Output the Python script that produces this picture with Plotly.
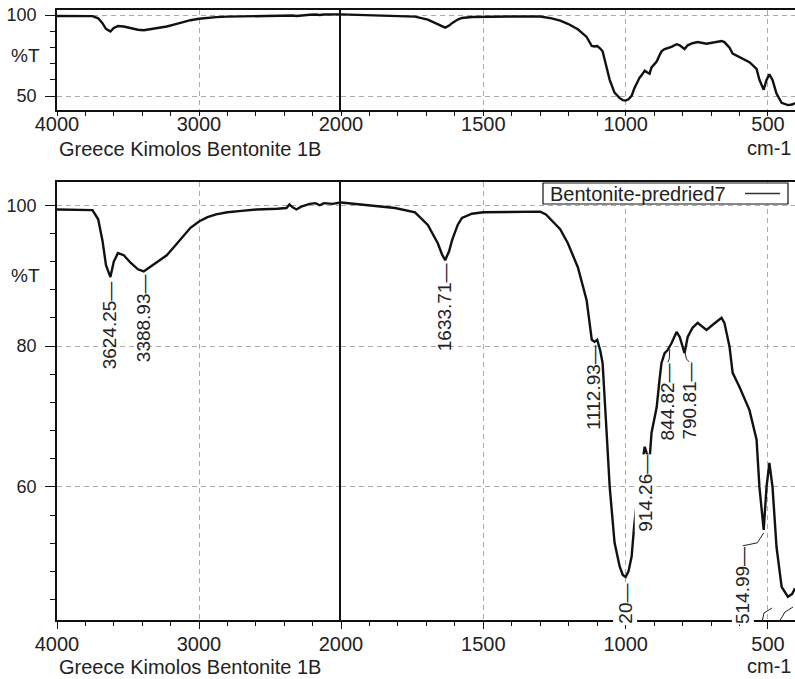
import plotly.graph_objects as go
import numpy as np

# ---------------- data ----------------
wavenumber = [
    4000, 3900, 3800, 3750, 3710, 3680, 3655, 3624, 3600, 3571, 3530, 3480, 3430, 3389,
    3340, 3280, 3227, 3170, 3115, 3060, 3000, 2940, 2880, 2800, 2700, 2595, 2450, 2384,
    2363, 2340, 2314, 2280, 2220, 2180, 2150, 2120, 2060, 2000,
    1950, 1900, 1850, 1810, 1740, 1695, 1660, 1645, 1634, 1620, 1610, 1590, 1575, 1540,
    1500, 1400, 1300, 1280, 1260, 1230, 1203, 1168, 1137, 1119, 1109, 1100, 1090, 1081,
    1070, 1056, 1039, 1021, 1010, 1000, 990, 979, 970, 951, 944, 933, 926, 916, 909, 891,
    881, 874, 863, 853, 839, 821, 810, 793, 782, 765, 747, 716, 695, 663, 653, 635, 624,
    600, 565, 540, 530, 515, 505, 495, 484, 470, 452, 430, 415, 405]
transmittance = [
    99.4, 99.4, 99.4, 99.3, 98.0, 95.0, 91.5, 89.8, 92.0, 93.2, 92.9, 91.8, 90.9, 90.6,
    91.3, 92.2, 92.9, 94.2, 95.5, 96.8, 97.7, 98.3, 98.7, 99.0, 99.2, 99.4, 99.5, 99.6,
    100.1, 99.7, 99.4, 99.8, 100.2, 100.3, 100.0, 100.3, 100.2, 100.4,
    100.2, 99.9, 99.7, 99.6, 99.0, 97.2, 94.6, 93.0, 92.2, 93.5, 95.0, 97.2, 98.2, 98.8,
    99.0, 99.1, 99.1, 98.7, 97.9, 96.6, 94.6, 91.2, 86.5, 80.9, 80.6, 80.9, 79.5, 77.6,
    70.0, 60.0, 52.1, 48.7, 47.5, 47.2, 48.0, 50.1, 54.5, 61.4, 62.8, 65.7, 64.8, 63.8,
    67.7, 71.3, 75.2, 77.6, 79.0, 79.4, 80.4, 82.0, 81.3, 79.0, 81.3, 82.6, 83.3, 82.3,
    83.0, 84.0, 83.3, 79.9, 76.2, 74.2, 70.9, 66.7, 60.0, 53.9, 60.0, 63.4, 60.0, 51.5,
    45.8, 44.4, 44.8, 45.6]
peak_positions = [3624.25, 3388.93, 1633.71, 1112.93, 914.26, 844.82, 790.81, 514.99]
peak_labels = ["3624.25", "3388.93", "1633.71", "1112.93", "914.26", "844.82", "790.81", "514.99"]
min_label_pos = 1000
min_label_text = "20"
x_ticks_left = [4000, 3000, 2000]
x_ticks_right = [1500, 1000, 500]
y_ticks_top = [100, 50]
y_ticks_bottom = [100, 80, 60]
series_name = "Bentonite-predried7"
sample_name = "Greece Kimolos Bentonite 1B"
x_unit = "cm-1"
y_title = "%T"

# ---------------- layout helpers ----------------
# the page body margin is removed by a small post script, so figure px == picture px
W, H = 795, 679
ML = 57
PW = W - ML
FONT = "Liberation Sans, Arial, sans-serif"
INK = "#111111"
TXT = "#222222"


def pxx(x):
    """reference-image x pixel -> paper fraction"""
    return (x - ML) / PW


def pxy(y):
    """reference-image y pixel -> paper fraction"""
    return 1 - y / H


XB = pxx(341)
TOP_DOM = [pxy(110), pxy(10)]
BOT_DOM = [pxy(620), pxy(182)]
TOP_RANGE = [41.4, 103.1]
BOT_RANGE = [41.1, 103.3]

wn = np.array(wavenumber, dtype=float)
tr = np.array(transmittance, dtype=float)
left_mask = wn >= 2000
right_mask = wn <= 2000

fig = go.Figure()
line_style = dict(color=INK, width=2.4)
for xa, ya in [("x", "y"), ("x3", "y3")]:
    fig.add_trace(go.Scatter(x=wn[left_mask], y=tr[left_mask], mode="lines", line=line_style,
                             xaxis=xa, yaxis=ya, showlegend=False, name=series_name))
for xa, ya in [("x2", "y2"), ("x4", "y4")]:
    fig.add_trace(go.Scatter(x=wn[right_mask], y=tr[right_mask], mode="lines", line=line_style,
                             xaxis=xa, yaxis=ya, showlegend=False, name=series_name))

grid = dict(showgrid=True, gridcolor="#ababab", griddash="5px,4px", gridwidth=1)
xtickfont = dict(size=20, color=TXT, family=FONT)
ytickfont = dict(size=18, color=TXT, family=FONT)


def xax(domain, rng, tickvals, minor_dtick, anchor, ticklen, standoff):
    return dict(domain=domain, range=rng, anchor=anchor, tickmode="array", tickvals=tickvals,
                ticktext=[str(v) for v in tickvals], showline=True, linecolor=INK, linewidth=1.5,
                mirror=True, ticks="outside", ticklen=ticklen, tickwidth=1.2, tickcolor=INK,
                zeroline=False, tickfont=xtickfont, fixedrange=True, automargin=False,
                ticklabelstandoff=standoff, ticklabeloverflow="allow",
                minor=dict(tick0=0, dtick=minor_dtick, ticks="outside", ticklen=4,
                           tickcolor=INK, tickwidth=1, showgrid=False),
                **grid)


def yax_left(domain, rng, tickvals, minor_dtick, anchor):
    return dict(domain=domain, range=rng, anchor=anchor, tickmode="array", tickvals=tickvals,
                ticktext=[str(v) for v in tickvals], showline=True, linecolor=INK, linewidth=1.5,
                mirror=False, ticks="outside", ticklen=10, tickwidth=1.2, tickcolor=INK,
                zeroline=False, tickfont=ytickfont, ticklabelstandoff=5, fixedrange=True,
                automargin=False, ticklabeloverflow="allow",
                minor=dict(tick0=0, dtick=minor_dtick, ticks="outside", ticklen=5,
                           tickcolor=INK, tickwidth=1, showgrid=False),
                **grid)


def yax_right(domain, rng, tickvals, anchor):
    return dict(domain=domain, range=rng, anchor=anchor, tickmode="array", tickvals=tickvals,
                showticklabels=False, ticks="", showline=True, linecolor=INK, linewidth=1.5,
                mirror=False, zeroline=False, fixedrange=True, automargin=False, **grid)


fig.update_layout(
    width=W, height=H, margin=dict(l=ML, r=0, t=0, b=0, autoexpand=False),
    paper_bgcolor="white", plot_bgcolor="white", showlegend=False,
    font=dict(family=FONT, color=TXT),
    xaxis=xax([0, XB], [4000, 2000], x_ticks_left, 200, "y", 4, -9),
    xaxis2=xax([XB, 1], [2000, 405], x_ticks_right, 100, "y2", 4, -9),
    xaxis3=xax([0, XB], [4000, 2000], x_ticks_left, 200, "y3", 7, -2),
    xaxis4=xax([XB, 1], [2000, 405], x_ticks_right, 100, "y4", 7, -2),
    yaxis=yax_left(TOP_DOM, TOP_RANGE, y_ticks_top, 10, "x"),
    yaxis2=yax_right(TOP_DOM, TOP_RANGE, y_ticks_top, "x2"),
    yaxis3=yax_left(BOT_DOM, BOT_RANGE, y_ticks_bottom, 4, "x3"),
    yaxis4=yax_right(BOT_DOM, BOT_RANGE, y_ticks_bottom, "x4"),
)

annotations = []
shapes = []
cap_font = dict(size=20, color=TXT, family=FONT)

# axis captions
for ycap in [149, 667]:
    annotations.append(dict(xref="paper", yref="paper", x=pxx(57), y=pxy(ycap), text=sample_name,
                            showarrow=False, xanchor="left", yanchor="middle", font=cap_font))
for ycap in [148, 666]:
    annotations.append(dict(xref="paper", yref="paper", x=pxx(793), y=pxy(ycap), text=x_unit,
                            showarrow=False, xanchor="right", yanchor="middle", font=cap_font))
for ycap in [55, 275]:
    annotations.append(dict(xref="paper", yref="paper", x=pxx(25), y=pxy(ycap), text=y_title,
                            showarrow=False, xanchor="center", yanchor="middle",
                            font=dict(size=19, color=TXT, family=FONT)))

# peak labels (bottom panel): (xshift, yshift, white box)
label_style = {
    "3624.25": (0, -3, False), "3388.93": (0, -2, False), "1633.71": (0, -2, False),
    "1112.93": (0, -3, False), "914.26": (-4, -1, True), "844.82": (-2, -16, False),
    "790.81": (4, -12, False), "514.99": (-21, -16, True),
}
lab_font = dict(size=19, color=TXT, family=FONT)
for pos, lab in zip(peak_positions, peak_labels):
    left = pos >= 2000
    xr, yr = ("x3", "y3") if left else ("x4", "y4")
    yv = float(np.interp(pos, wn[::-1], tr[::-1]))
    dx, dy, box = label_style[lab]
    ann = dict(xref=xr, yref=yr, x=pos, y=yv, text=lab + "\u2014", textangle=-90, showarrow=False,
               xanchor="center", yanchor="top", xshift=dx, yshift=dy, font=lab_font, borderpad=0)
    if box:
        ann["bgcolor"] = "white"
    annotations.append(ann)
    # slanted leader from the peak to the label when the label is offset
    if abs(dy) > 5:
        shapes.append(dict(type="path", xref=xr, yref=yr, xsizemode="pixel", ysizemode="pixel",
                           xanchor=pos, yanchor=yv,
                           path=f"M 0 -3 L {dx * 0.3:.1f} {dy + 3} L {dx} {dy}",
                           line=dict(color=TXT, width=1)))

yv_min = float(np.interp(min_label_pos, wn[::-1], tr[::-1]))
annotations.append(dict(xref="x4", yref="y4", x=min_label_pos, y=yv_min,
                        text=min_label_text + "\u2014", textangle=-90, showarrow=False,
                        xanchor="center", yanchor="top", xshift=-1, yshift=-5, font=lab_font,
                        bgcolor="white", borderpad=1))

# leader stubs of the clipped labels near 500 cm-1
for path in [[(762, 622), (764, 613), (772, 608)], [(779, 622), (785, 612), (793, 607)]]:
    d = "M " + " L ".join(f"{pxx(a):.5f} {pxy(b):.5f}" for a, b in path)
    shapes.append(dict(type="path", xref="paper", yref="paper", path=d,
                       line=dict(color=TXT, width=1), layer="above"))

# legend box (text first, then line sample)
shapes.append(dict(type="rect", xref="paper", yref="paper", x0=pxx(543), x1=pxx(788),
                   y0=pxy(204), y1=pxy(183), line=dict(color=INK, width=1.2), fillcolor="white",
                   layer="above"))
shapes.append(dict(type="line", xref="paper", yref="paper", x0=pxx(745), x1=pxx(780),
                   y0=pxy(193.5), y1=pxy(193.5), line=dict(color="#333333", width=1.5)))
annotations.append(dict(xref="paper", yref="paper", x=pxx(548), y=pxy(193.5), text=series_name,
                        showarrow=False, xanchor="left", yanchor="middle", font=cap_font))

fig.update_layout(annotations=annotations, shapes=shapes)
fig.write_html("out.html", config={"displayModeBar": False},
               post_script="document.body.style.margin='0px';")
